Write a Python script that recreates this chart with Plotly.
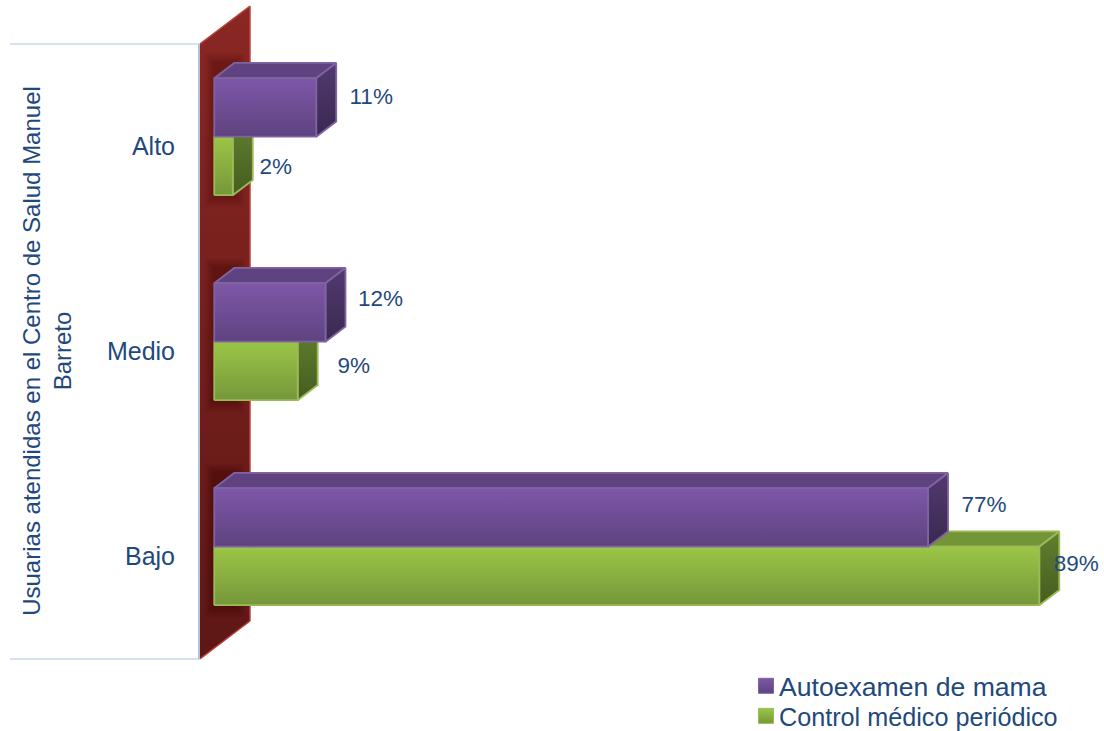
import plotly.graph_objects as go

# Values in percent
categories = ["Bajo", "Medio", "Alto"]
autoexamen = [77, 12, 11]
control = [89, 9, 2]
series_names = ["Autoexamen de mama", "Control médico periódico"]
axis_title = "Usuarias atendidas en el Centro de Salud Manuel<br>Barreto"

# Canvas and scale setup (pixels per axis unit)
WIDTH, HEIGHT = 1104, 731
LEFT, BOTTOM = 200, 29
PX_X = 9.27
PX_Y = 205
Y_ZERO_PX = 556.5
TEXT = "#1f497d"
FONT = "Liberation Sans"

x_range = [0, (WIDTH - LEFT) / PX_X]
y_range = [(Y_ZERO_PX - (HEIGHT - BOTTOM)) / PX_Y, Y_ZERO_PX / PX_Y]

# Oblique projection: moving back by the full depth shifts a point right and up
DEPTH_X = 50 / PX_X
DEPTH_Y = 38 / PX_Y
BAR_FRONT, BAR_BACK = 0.285, 0.685
BAR_H = 58.5 / PX_Y
BAR_DROP = 1.0 / PX_Y


def pr(v, c, z):
    return v + z * DEPTH_X, c + z * DEPTH_Y


def face(points, **kw):
    xs = [p[0] for p in points] + [points[0][0]]
    ys = [p[1] for p in points] + [points[0][1]]
    return go.Scatter(x=xs, y=ys, mode="lines", fill="toself", hoverinfo="skip",
                      showlegend=False, cliponaxis=False, **kw)


def grad(bottom, top):
    return dict(type="vertical", colorscale=[[0, bottom], [1, top]])


fig = go.Figure()

# Back wall
fig.add_trace(face([pr(0, -0.5, 0), pr(0, -0.5, 1), pr(0, 2.5, 1), pr(0, 2.5, 0)],
                   fillgradient=grad("#5e1715", "#8a2723"),
                   line=dict(color="rgba(0,0,0,0)", width=0)))
for a, b in [((0, 2.5, 0), (0, 2.5, 1)), ((0, -0.5, 0), (0, -0.5, 1)), ((0, -0.5, 1), (0, 2.5, 1))]:
    pa, pb = pr(*a), pr(*b)
    fig.add_trace(go.Scatter(x=[pa[0], pb[0]], y=[pa[1], pb[1]], mode="lines", hoverinfo="skip",
                             showlegend=False, cliponaxis=False,
                             line=dict(color="#b8443f", width=1.5)))

# Soft shadow that the bars throw on the wall, built from many faint layers
for i in range(len(categories)):
    for spread in range(1, 13):
        ex, ey = spread / PX_X, spread / PX_Y
        x0 = BAR_FRONT * DEPTH_X - ex * 0.8
        x1 = min(BAR_BACK * DEPTH_X + ex * 0.9, DEPTH_X)
        yc = i + BAR_FRONT * DEPTH_Y - BAR_DROP
        y_low = yc - BAR_H - ey
        y_high = yc + BAR_H + (BAR_BACK - BAR_FRONT) * DEPTH_Y + ey * 0.8
        fig.add_trace(face([(x0, y_low), (x1, y_low), (x1, y_high), (x0, y_high)],
                           fillcolor="rgba(25,0,0,0.024)",
                           line=dict(color="rgba(0,0,0,0)", width=0)))


def box(v, c0, c1, colors):
    """One 3D bar: top face, end face and front face."""
    fig.add_trace(face([pr(0, c1, BAR_FRONT), pr(0, c1, BAR_BACK), pr(v, c1, BAR_BACK), pr(v, c1, BAR_FRONT)],
                       fillcolor=colors["top"], line=dict(color=colors["edge"], width=1.8)))
    fig.add_trace(face([pr(v, c0, BAR_FRONT), pr(v, c0, BAR_BACK), pr(v, c1, BAR_BACK), pr(v, c1, BAR_FRONT)],
                       fillgradient=grad(*colors["side"]), line=dict(color=colors["edge"], width=1.8)))
    fig.add_trace(face([pr(0, c0, BAR_FRONT), pr(v, c0, BAR_FRONT), pr(v, c1, BAR_FRONT), pr(0, c1, BAR_FRONT)],
                       fillgradient=grad(*colors["front"]), line=dict(color=colors["edge"], width=1.8)))


purple = dict(front=("#5e4380", "#7e57a8"), side=("#3a2950", "#52396f"), top="#5f4380", edge="#8064a2")
green = dict(front=("#75973a", "#9bc647"), side=("#465c20", "#60802f"), top="#739537", edge="#9bbb59")

# The lower bar of each group goes first so the upper one overlaps it
for i in range(len(categories)):
    box(control[i], i - BAR_DROP - BAR_H, i - BAR_DROP, green)
    box(autoexamen[i], i - BAR_DROP, i - BAR_DROP + BAR_H, purple)

# Value labels, nudged clear of the bar ends (pixels)
purple_nudge = [(56, -10), (55, -11), (55, -8)]
green_nudge = [(37, -10), (56, -3), (43, 3.5)]
for values, nudge, sign in ((autoexamen, purple_nudge, 0.5), (control, green_nudge, -0.5)):
    xs, ys, texts = [], [], []
    for i, v in enumerate(values):
        fx, fy = pr(v, i + sign * BAR_H, BAR_FRONT)
        xs.append(fx + nudge[i][0] / PX_X)
        ys.append(fy - nudge[i][1] / PX_Y)
        texts.append(f"{v}%")
    fig.add_trace(go.Scatter(x=xs, y=ys, text=texts, mode="text", hoverinfo="skip",
                             showlegend=False, cliponaxis=False,
                             textfont=dict(family=FONT, size=22.5, color=TEXT)))

# Legend keys: one legend per entry so the rows can sit close together
for name, col, col2, edge, lg in ((series_names[0], "#7e57a8", "#5e4380", "#8064a2", "legend"),
                                  (series_names[1], "#9bc647", "#75973a", "#9bbb59", "legend2")):
    fig.add_trace(go.Scatter(x=[None], y=[None], mode="markers", name=name, legend=lg,
                             marker=dict(symbol="square", size=15, color=col, angle=90, standoff=7,
                                         gradient=dict(type="vertical", color=col2),
                                         line=dict(color=edge, width=1))))


def legend_at(px_x, px_y, size):
    return dict(x=(px_x - LEFT) / (WIDTH - LEFT), y=(HEIGHT - BOTTOM - px_y) / (HEIGHT - BOTTOM),
                xanchor="left", yanchor="middle", bgcolor="rgba(0,0,0,0)", borderwidth=0,
                font=dict(family=FONT, size=size, color=TEXT), itemclick=False, itemdoubleclick=False)


fig.update_layout(
    width=WIDTH, height=HEIGHT,
    margin=dict(l=LEFT, r=0, t=0, b=BOTTOM, autoexpand=False),
    paper_bgcolor="white", plot_bgcolor="white",
    showlegend=True,
    legend=legend_at(739, 686, 26.6),
    legend2=legend_at(739, 716, 25.2),
    xaxis=dict(range=x_range, visible=False, fixedrange=True),
    yaxis=dict(range=y_range, tickmode="array", tickvals=list(range(len(categories))),
               ticktext=categories, showgrid=False, zeroline=False, showline=False,
               ticks="", ticklabelstandoff=24, fixedrange=True,
               tickfont=dict(family=FONT, size=25, color=TEXT),
               title=dict(text=axis_title, font=dict(family=FONT, size=24, color=TEXT), standoff=28)),
    shapes=[
        dict(type="line", xref="paper", yref="y", x0=-190 / (WIDTH - LEFT), x1=0, y0=2.5, y1=2.5,
             line=dict(color="#d5e0f2", width=2)),
        dict(type="line", xref="paper", yref="y", x0=-190 / (WIDTH - LEFT), x1=0, y0=-0.5, y1=-0.5,
             line=dict(color="#d5e0f2", width=2)),
        dict(type="line", xref="paper", yref="y", x0=-1 / (WIDTH - LEFT), x1=-1 / (WIDTH - LEFT), y0=-0.5, y1=2.5,
             line=dict(color="#b4bfd6", width=2)),
    ],
)

fig.write_html("out.html", config=dict(displayModeBar=False))
